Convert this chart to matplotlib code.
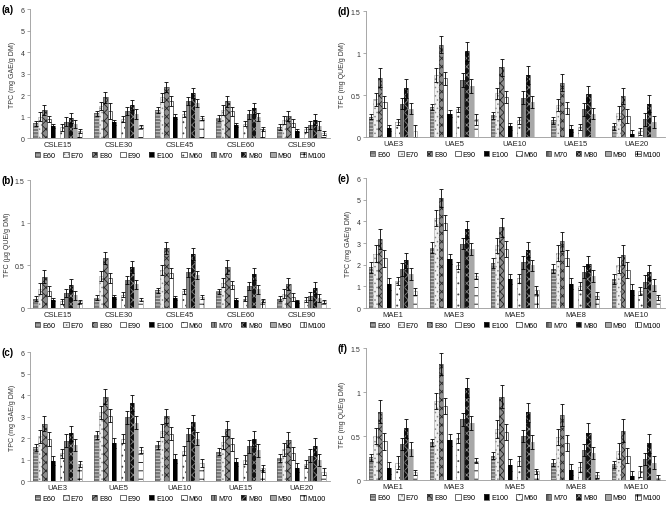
import matplotlib
matplotlib.use("Agg")
import matplotlib.pyplot as plt
from matplotlib.legend_handler import HandlerTuple
import numpy as np

plt.rcParams["font.family"] = ["Liberation Sans", "DejaVu Sans"]
plt.rcParams["hatch.linewidth"] = 0.6

series = ["E60", "E70", "E80", "E90", "E100", "M60", "M70", "M80", "M90", "M100"]

cats_csle = ["CSLE15", "CSLE30", "CSLE45", "CSLE60", "CSLE90"]
cats_uae = ["UAE3", "UAE5", "UAE10", "UAE15", "UAE20"]
cats_mae = ["MAE1", "MAE3", "MAE5", "MAE8", "MAE10"]

# rows = categories, columns = series
a_vals = [[0.70, 1.00, 1.30, 0.88, 0.57, 0.50, 0.77, 0.93, 0.65, 0.33],
          [1.15, 1.50, 1.90, 1.25, 0.73, 0.88, 1.27, 1.55, 1.12, 0.55],
          [1.32, 1.90, 2.37, 1.72, 1.00, 1.13, 1.72, 2.10, 1.63, 0.93],
          [0.93, 1.30, 1.72, 1.25, 0.60, 0.68, 1.10, 1.38, 0.98, 0.42],
          [0.52, 0.85, 1.02, 0.70, 0.35, 0.42, 0.62, 0.85, 0.58, 0.25]]
a_errs = [[0.12, 0.20, 0.23, 0.15, 0.10, 0.15, 0.20, 0.22, 0.18, 0.10],
          [0.12, 0.20, 0.25, 0.38, 0.10, 0.15, 0.20, 0.22, 0.22, 0.08],
          [0.15, 0.20, 0.23, 0.22, 0.12, 0.15, 0.20, 0.22, 0.18, 0.10],
          [0.13, 0.22, 0.25, 0.20, 0.10, 0.12, 0.20, 0.25, 0.20, 0.10],
          [0.12, 0.18, 0.22, 0.20, 0.08, 0.12, 0.20, 0.25, 0.20, 0.10]]

b_vals = [[0.11, 0.23, 0.37, 0.20, 0.10, 0.08, 0.18, 0.27, 0.15, 0.08],
          [0.12, 0.38, 0.59, 0.35, 0.13, 0.16, 0.33, 0.48, 0.28, 0.10],
          [0.21, 0.45, 0.70, 0.41, 0.12, 0.20, 0.42, 0.63, 0.39, 0.13],
          [0.20, 0.30, 0.48, 0.27, 0.10, 0.11, 0.26, 0.40, 0.22, 0.09],
          [0.11, 0.17, 0.28, 0.13, 0.08, 0.10, 0.14, 0.24, 0.12, 0.08]]
b_errs = [[0.03, 0.06, 0.08, 0.06, 0.02, 0.03, 0.05, 0.07, 0.05, 0.02],
          [0.03, 0.06, 0.07, 0.06, 0.02, 0.03, 0.05, 0.07, 0.05, 0.02],
          [0.03, 0.06, 0.07, 0.06, 0.02, 0.03, 0.05, 0.07, 0.05, 0.02],
          [0.03, 0.05, 0.08, 0.05, 0.02, 0.03, 0.05, 0.07, 0.05, 0.02],
          [0.03, 0.05, 0.07, 0.05, 0.02, 0.03, 0.05, 0.07, 0.05, 0.02]]

c_vals = [[1.57, 2.10, 2.67, 1.95, 0.95, 1.30, 1.88, 2.22, 1.68, 0.80],
          [2.15, 3.20, 3.92, 3.05, 1.78, 1.98, 2.97, 3.65, 2.72, 1.45],
          [1.68, 2.35, 3.02, 2.20, 1.05, 1.42, 2.18, 2.75, 1.98, 0.85],
          [1.38, 1.82, 2.45, 1.72, 0.90, 1.00, 1.62, 1.97, 1.43, 0.60],
          [1.07, 1.48, 1.92, 1.30, 0.63, 0.80, 1.18, 1.62, 1.00, 0.45]]
c_errs = [[0.18, 0.30, 0.35, 0.32, 0.20, 0.22, 0.30, 0.35, 0.27, 0.15],
          [0.18, 0.32, 0.35, 0.30, 0.22, 0.20, 0.30, 0.37, 0.30, 0.15],
          [0.18, 0.30, 0.33, 0.30, 0.20, 0.20, 0.30, 0.35, 0.30, 0.18],
          [0.18, 0.30, 0.33, 0.30, 0.20, 0.22, 0.30, 0.35, 0.30, 0.17],
          [0.18, 0.30, 0.35, 0.30, 0.20, 0.18, 0.30, 0.38, 0.28, 0.15]]

d_vals = [[0.24, 0.45, 0.71, 0.42, 0.11, 0.18, 0.40, 0.58, 0.34, 0.07],
          [0.36, 0.74, 1.10, 0.70, 0.28, 0.33, 0.68, 1.02, 0.61, 0.21],
          [0.26, 0.52, 0.83, 0.48, 0.13, 0.20, 0.47, 0.74, 0.42, 0.00],
          [0.20, 0.38, 0.65, 0.35, 0.10, 0.12, 0.33, 0.51, 0.28, 0.00],
          [0.13, 0.29, 0.49, 0.25, 0.04, 0.07, 0.21, 0.40, 0.18, 0.00]]
d_errs = [[0.03, 0.08, 0.11, 0.07, 0.04, 0.04, 0.07, 0.11, 0.07, 0.07],
          [0.04, 0.08, 0.10, 0.08, 0.04, 0.03, 0.08, 0.11, 0.08, 0.07],
          [0.04, 0.07, 0.10, 0.07, 0.04, 0.04, 0.08, 0.11, 0.07, 0.00],
          [0.04, 0.07, 0.10, 0.07, 0.04, 0.04, 0.08, 0.10, 0.07, 0.00],
          [0.04, 0.08, 0.10, 0.08, 0.04, 0.04, 0.08, 0.10, 0.07, 0.00]]

e_vals = [[1.88, 2.52, 3.18, 2.30, 1.12, 1.25, 1.80, 2.20, 1.58, 0.78],
          [2.78, 4.18, 5.08, 3.95, 2.28, 1.98, 2.98, 3.63, 2.72, 1.48],
          [2.08, 2.90, 3.73, 2.72, 1.35, 1.38, 2.12, 2.70, 1.98, 0.82],
          [1.82, 2.55, 3.08, 2.30, 1.12, 1.02, 1.68, 2.05, 1.48, 0.58],
          [1.35, 1.98, 2.45, 1.77, 0.85, 0.78, 1.22, 1.65, 1.07, 0.50]]
e_errs = [[0.25, 0.38, 0.45, 0.40, 0.26, 0.18, 0.30, 0.33, 0.27, 0.15],
          [0.25, 0.37, 0.42, 0.35, 0.24, 0.17, 0.27, 0.37, 0.28, 0.12],
          [0.22, 0.35, 0.45, 0.38, 0.22, 0.20, 0.30, 0.35, 0.25, 0.18],
          [0.22, 0.37, 0.42, 0.37, 0.25, 0.20, 0.27, 0.35, 0.27, 0.15],
          [0.22, 0.37, 0.45, 0.37, 0.25, 0.18, 0.30, 0.33, 0.27, 0.12]]

f_vals = [[0.26, 0.50, 0.78, 0.44, 0.14, 0.20, 0.41, 0.59, 0.35, 0.09],
          [0.43, 0.90, 1.32, 0.84, 0.46, 0.48, 0.69, 1.05, 0.65, 0.22],
          [0.28, 0.58, 0.95, 0.55, 0.17, 0.22, 0.50, 0.77, 0.43, 0.10],
          [0.20, 0.49, 0.74, 0.42, 0.12, 0.15, 0.34, 0.54, 0.31, 0.06],
          [0.18, 0.33, 0.56, 0.28, 0.05, 0.10, 0.24, 0.42, 0.20, 0.03]]
f_errs = [[0.04, 0.09, 0.13, 0.10, 0.07, 0.07, 0.07, 0.11, 0.08, 0.03],
          [0.04, 0.09, 0.13, 0.09, 0.07, 0.06, 0.07, 0.11, 0.08, 0.03],
          [0.04, 0.10, 0.13, 0.09, 0.07, 0.06, 0.07, 0.11, 0.08, 0.03],
          [0.04, 0.09, 0.12, 0.09, 0.06, 0.06, 0.07, 0.11, 0.07, 0.03],
          [0.04, 0.09, 0.13, 0.09, 0.06, 0.06, 0.07, 0.11, 0.07, 0.03]]

# face, hatch colour, hatch pattern, outline colour
styles = [
    ("#777777", "#d8d8d8", "-----", "#555555"),
    ("#f0f0f0", "#8a8a8a", "....", "#aaaaaa"),
    ("#8c8c8c", "#222222", "xxxx", "#444444"),
    ("white", "white", "", "black"),
    ("black", "black", "", "black"),
    ("white", "#404040", "...", "#888888"),
    ("#8a8a8a", "#3a3a3a", "||||", "#555555"),
    ("#111111", "#8a8a8a", "xxxx", "#111111"),
    ("#a8a8a8", "#a8a8a8", "", "#a8a8a8"),
    ("white", "black", "++", "#888888"),
]

panels = [
    ("(a)", [0.045, 0.725, 0.448, 0.255], a_vals, a_errs, cats_csle, 6, "TPC (mg GAE/g DM)"),
    ("(b)", [0.045, 0.389, 0.448, 0.253], b_vals, b_errs, cats_csle, 1.5, "TFC (\u00b5g QUE/g DM)"),
    ("(c)", [0.045, 0.047, 0.448, 0.255], c_vals, c_errs, cats_uae, 6, "TPC (mg GAE/g DM)"),
    ("(d)", [0.546, 0.727, 0.446, 0.249], d_vals, d_errs, cats_uae, 1.5, "TFC (mg QUE/g DM)"),
    ("(e)", [0.546, 0.389, 0.446, 0.257], e_vals, e_errs, cats_mae, 6, "TPC (mg GAE/g DM)"),
    ("(f)", [0.546, 0.049, 0.446, 0.261], f_vals, f_errs, cats_mae, 1.5, "TFC (mg QUE/g DM)"),
]

fig = plt.figure(figsize=(6.7, 5.06), dpi=100)
w = 0.072
slots = [0, 1, 2, 3, 4, 6, 7, 8, 9, 10]
x = np.arange(5)

for label, rect, vals, errs, cats, ymax, ylab in panels:
    ax = fig.add_axes(rect)
    vals = np.array(vals)
    errs = np.array(errs)
    handles = []
    for j, name in enumerate(series):
        face, hcol, hatch, ecol = styles[j]
        pos = x + (slots[j] - 5) * w
        h = vals[:, j]
        ax.bar(pos, h, w, color=face, edgecolor=hcol, hatch=hatch, linewidth=0)
        ax.bar(pos, h, w, fill=False, edgecolor=ecol, linewidth=0.4)
        mask = h > 0
        ax.errorbar(pos[mask], h[mask], yerr=errs[mask, j], fmt="none",
                    ecolor="black", elinewidth=0.6, capsize=1.6, capthick=0.6)
        p1 = plt.Rectangle((0, 0), 1, 1, facecolor=face, edgecolor=hcol,
                           hatch=hatch, linewidth=0)
        p2 = plt.Rectangle((0, 0), 1, 1, fill=False, edgecolor="#333333",
                           linewidth=0.5)
        handles.append((p1, p2))
    ax.set_xlim(-0.45, 4.47)
    ax.set_ylim(0, ymax)
    if ymax == 6:
        ax.set_yticks(np.arange(0, 7, 1))
        ax.set_yticklabels([str(v) for v in range(7)])
    else:
        ax.set_yticks([0, 0.5, 1, 1.5])
        ax.set_yticklabels(["0", "0.5", "1", "1.5"])
    ax.set_xticks(x)
    ax.set_xticklabels(cats)
    ax.tick_params(axis="x", length=0, labelsize=5.5, pad=2, colors="#222222")
    ax.tick_params(axis="y", length=2, width=0.5, labelsize=5, pad=2,
                   color="#888888", labelcolor="#333333")
    for s in ["top", "right"]:
        ax.spines[s].set_visible(False)
    for s in ["left", "bottom"]:
        ax.spines[s].set_color("#999999")
        ax.spines[s].set_linewidth(0.6)
    ax.set_ylabel(ylab, fontsize=5, labelpad=3, color="#333333")
    ax.text(-0.095, 1.0, label, transform=ax.transAxes, fontsize=7,
            fontweight="bold", va="center", ha="left")
    ax.legend(handles, series, ncol=10, loc="upper center",
              bbox_to_anchor=(0.5, -0.085), frameon=False, fontsize=5.2,
              handlelength=0.75, handleheight=0.75, handletextpad=0.25,
              columnspacing=1.15, borderaxespad=0,
              handler_map={tuple: HandlerTuple(ndivide=1, pad=0)})

fig.savefig("out.png", dpi=100)
